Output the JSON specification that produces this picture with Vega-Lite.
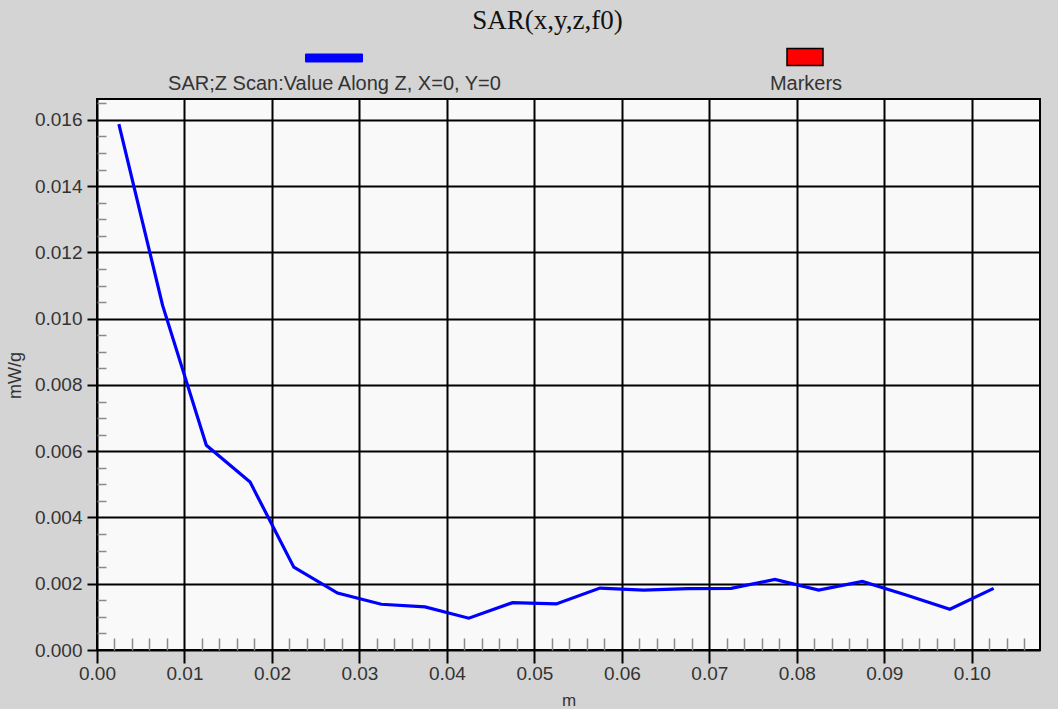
{
  "$schema": "https://vega.github.io/schema/vega-lite/v6.json",
  "width": 943,
  "height": 551,
  "autosize": "none",
  "padding": {"left": 97, "top": 99, "right": 18, "bottom": 59},
  "background": "#d4d4d4",
  "title": {"text": "SAR(x,y,z,f0)", "font": "Liberation Serif", "fontSize": 27, "fontWeight": "normal", "color": "#111111", "anchor": "middle", "frame": "group", "dx": -21, "offset": -6},
  "data": {"values": [
    {"z": 0.0025, "sar": 0.01587},
    {"z": 0.0075, "sar": 0.0104},
    {"z": 0.0125, "sar": 0.00618},
    {"z": 0.0175, "sar": 0.00507},
    {"z": 0.0225, "sar": 0.0025},
    {"z": 0.0275, "sar": 0.00172},
    {"z": 0.0325, "sar": 0.00138},
    {"z": 0.0375, "sar": 0.0013},
    {"z": 0.0425, "sar": 0.00096},
    {"z": 0.0475, "sar": 0.00143},
    {"z": 0.0525, "sar": 0.00139},
    {"z": 0.0575, "sar": 0.00187},
    {"z": 0.0625, "sar": 0.00181},
    {"z": 0.0675, "sar": 0.00185},
    {"z": 0.0725, "sar": 0.00186},
    {"z": 0.0775, "sar": 0.00213},
    {"z": 0.0825, "sar": 0.00181},
    {"z": 0.0875, "sar": 0.00207},
    {"z": 0.0925, "sar": 0.00166},
    {"z": 0.0975, "sar": 0.00123},
    {"z": 0.1025, "sar": 0.00186}
  ]},
  "layer": [
    {
      "mark": {"type": "line", "strokeWidth": 3.2, "clip": true},
      "encoding": {
        "x": {"field": "z", "type": "quantitative", "scale": {"domain": [0, 0.1078], "nice": false, "zero": false},
          "axis": {"orient": "bottom", "values": [0, 0.01, 0.02, 0.03, 0.04, 0.05, 0.06, 0.07, 0.08, 0.09, 0.1], "format": ".2f",
            "grid": true, "gridColor": "#000000", "gridWidth": 2, "gridOpacity": 1,
            "domain": false, "ticks": true, "tickColor": "#000000", "tickWidth": 2, "tickSize": 13,
            "labelFont": "Liberation Sans", "labelFontSize": 19, "labelColor": "#333333", "labelPadding": 1, "labelBaseline": "top", "labelFlush": false, "labelOverlap": false,
            "title": "m", "titleFont": "Liberation Sans", "titleFontSize": 17, "titleFontWeight": "normal", "titleColor": "#333333", "titleBaseline": "alphabetic", "titleY": 55}},
        "y": {"field": "sar", "type": "quantitative", "scale": {"domain": [0, 0.01663], "nice": false, "zero": false},
          "axis": {"orient": "left", "values": [0, 0.002, 0.004, 0.006, 0.008, 0.01, 0.012, 0.014, 0.016], "format": ".3f",
            "grid": true, "gridColor": "#000000", "gridWidth": 2, "gridOpacity": 1,
            "domain": false, "ticks": true, "tickColor": "#000000", "tickWidth": 2, "tickSize": 10,
            "labelFont": "Liberation Sans", "labelFontSize": 19, "labelColor": "#333333", "labelPadding": 5, "labelFlush": false, "labelOverlap": false,
            "title": "mW/g", "titleFont": "Liberation Sans", "titleFontSize": 18, "titleFontWeight": "normal", "titleColor": "#333333", "titleAngle": -90, "titleBaseline": "bottom", "titleX": -73, "titleY": 276}},
        "color": {"datum": "SAR;Z Scan:Value Along Z, X=0, Y=0", "type": "nominal",
          "scale": {"domain": ["SAR;Z Scan:Value Along Z, X=0, Y=0"], "range": ["#0000ff"]},
          "legend": {"orient": "none", "legendX": 208, "legendY": -70, "title": null, "padding": 0,
            "symbolType": "M-1,-0.14H1V0.14H-1Z", "symbolSize": 3249, "symbolStrokeColor": "#00008b", "symbolStrokeWidth": 1,
            "labelAlign": "center", "labelOffset": -28.5, "labelFont": "Liberation Sans", "labelFontSize": 20, "labelColor": "#333333", "labelLimit": 600,
            "encode": {"symbols": {"update": {"fill": {"value": "#0000ff"}, "stroke": {"value": "#00008b"}, "strokeWidth": {"value": 1}, "opacity": {"value": 1}}},
                       "labels": {"update": {"dy": {"value": 26}}}}}}
      }
    },
    {
      "transform": [{"filter": "false"}],
      "mark": {"type": "line", "strokeWidth": 1.5},
      "encoding": {
        "x": {"field": "z", "type": "quantitative",
          "axis": {"orient": "bottom", "values": [0.002, 0.004, 0.006, 0.008, 0.012, 0.014, 0.016, 0.018, 0.022, 0.024, 0.026, 0.028, 0.032, 0.034, 0.036, 0.038, 0.042, 0.044, 0.046, 0.048, 0.052, 0.054, 0.056, 0.058, 0.062, 0.064, 0.066, 0.068, 0.072, 0.074, 0.076, 0.078, 0.082, 0.084, 0.086, 0.088, 0.092, 0.094, 0.096, 0.098, 0.102, 0.104, 0.106],
            "grid": false, "domain": false, "labels": false, "title": null, "ticks": true, "tickColor": "#8a8a8a", "tickWidth": 1.5, "tickSize": -12}},
        "y": {"field": "sar", "type": "quantitative",
          "axis": {"orient": "left", "values": [0.0005, 0.001, 0.0015, 0.0025, 0.003, 0.0035, 0.0045, 0.005, 0.0055, 0.0065, 0.007, 0.0075, 0.0085, 0.009, 0.0095, 0.0105, 0.011, 0.0115, 0.0125, 0.013, 0.0135, 0.0145, 0.015, 0.0155, 0.0165],
            "grid": false, "domain": false, "labels": false, "title": null, "ticks": true, "tickColor": "#8a8a8a", "tickWidth": 1.5, "tickSize": -9}},
        "stroke": {"datum": "Markers", "type": "nominal",
          "scale": {"domain": ["Markers"], "range": ["#000000"]},
          "legend": {"orient": "none", "legendX": 689, "legendY": -61, "title": null, "padding": 0,
            "symbolType": "M-1,-0.47H1V0.47H-1Z", "symbolSize": 1296, "symbolStrokeColor": "#000000", "symbolStrokeWidth": 1.5,
            "labelAlign": "center", "labelOffset": -18, "labelFont": "Liberation Sans", "labelFontSize": 20, "labelColor": "#333333", "labelLimit": 600,
            "encode": {"symbols": {"update": {"fill": {"value": "#ff0000"}, "stroke": {"value": "#000000"}, "strokeWidth": {"value": 1.5}, "opacity": {"value": 1}}},
                       "labels": {"update": {"dy": {"value": 27}}}}}}
      }
    }
  ],
  "resolve": {"axis": {"x": "independent", "y": "independent"}},
  "config": {
    "view": {"fill": "#f9f9f9", "stroke": "#000000", "strokeWidth": 2},
    "font": "Liberation Sans"
  }
}
